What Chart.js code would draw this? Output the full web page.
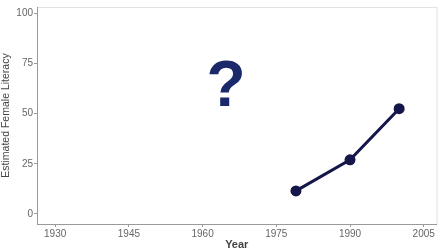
<!DOCTYPE html>
<html>
<head>
<meta charset="utf-8">
<script src="https://cdn.jsdelivr.net/npm/chart.js@4/dist/chart.umd.min.js"></script>
<style>
  html, body { margin: 0; padding: 0; background: #fff; }
  #wrap { width: 442px; height: 252px; }
</style>
</head>
<body>
<div id="wrap"><canvas id="chart" width="442" height="252"></canvas></div>
<script>
// data
const years = [1979, 1990, 2000];
const literacy = [11.5, 27, 52.5];
const xTicks = [1930, 1945, 1960, 1975, 1990, 2005];
const yTicks = [0, 25, 50, 75, 100];

const navy = '#15164a';

// faint frame round the plot + the big question mark
const extras = {
    id: 'extras',
    beforeDraw(chart) {
        const a = chart.chartArea, c = chart.ctx;
        c.save();
        c.strokeStyle = '#e2e2e2';
        c.lineWidth = 1;
        c.strokeRect(a.left + 0.5, a.top + 0.5, a.right - a.left, a.bottom - a.top);
        c.restore();
    },
    afterDraw(chart) {
        const c = chart.ctx;
        c.save();
        c.fillStyle = '#1b296b';
        c.font = 'bold 64px "Liberation Sans", Arial, sans-serif';
        c.textAlign = 'center';
        c.textBaseline = 'middle';
        c.fillText('?', 226, 88);
        c.restore();
    }
};

const ctx = document.getElementById('chart').getContext('2d');
const chart = new Chart(ctx, {
    type: 'line',
    data: {
        datasets: [{
            data: years.map((y, i) => ({ x: y, y: literacy[i] })),
            borderColor: navy,
            backgroundColor: navy,
            borderWidth: 3,
            pointRadius: 5.5,
            pointBorderWidth: 0,
            tension: 0
        }]
    },
    options: {
        responsive: false,
        animation: false,
        layout: { padding: { top: 0, right: 5, left: 0, bottom: 0 } },
        plugins: { legend: { display: false }, tooltip: { enabled: false } },
        scales: {
            x: {
                type: 'linear',
                min: 1926.3,
                max: 2007.6,
                afterBuildTicks: s => { s.ticks = xTicks.map(v => ({ value: v })); },
                afterFit: s => { s.height = 28; },
                border: { color: '#9a9a9a', width: 1 },
                grid: { drawOnChartArea: false, tickLength: 3, color: '#9a9a9a' },
                ticks: {
                    color: '#666',
                    padding: 1,
                    maxRotation: 0,
                    callback: v => String(v),
                    font: { family: '"Liberation Sans", Arial, sans-serif', size: 10 }
                },
                title: {
                    display: true,
                    text: 'Year',
                    color: '#444',
                    padding: { top: 0, bottom: 0 },
                    font: { family: '"Liberation Sans", Arial, sans-serif', size: 11, weight: 'bold' }
                }
            },
            y: {
                min: -5,
                max: 103.2,
                afterBuildTicks: s => { s.ticks = yTicks.map(v => ({ value: v })); },
                afterFit: s => { s.width = 37; },
                border: { color: '#9a9a9a', width: 1 },
                grid: { drawOnChartArea: false, tickLength: 3, color: '#9a9a9a' },
                ticks: {
                    color: '#666',
                    padding: 1,
                    callback: v => String(v),
                    font: { family: '"Liberation Sans", Arial, sans-serif', size: 10 }
                },
                title: {
                    display: true,
                    text: 'Estimated Female Literacy',
                    color: '#444',
                    padding: { top: 0, bottom: 0 },
                    font: { family: '"Liberation Sans", Arial, sans-serif', size: 10.5 }
                }
            }
        }
    },
    plugins: [extras]
});
</script>
</body>
</html>
